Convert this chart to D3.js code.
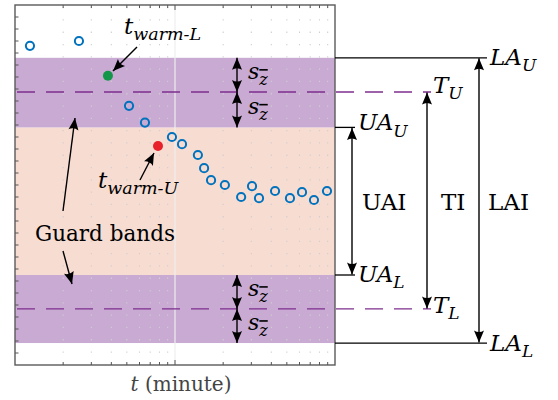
<!DOCTYPE html>
<html lang="en">
<head>
<meta charset="UTF-8">
<script src="https://cdnjs.cloudflare.com/ajax/libs/d3/7.8.5/d3.min.js"></script>
<style>
body { margin: 0; background: #fff; }
</style>
</head>
<body>
<svg width="558" height="400"></svg>
<script>
// measured readings (log time axis)
const times = [1.24, 2.51, 5.16, 6.49, 9.57, 11.06, 13.9, 15.2, 16.8, 20.5, 25.9, 30.3, 33.5, 42.2, 52.3, 62.2, 73.9, 89.1];
const readings = [26.6, 27.0, 21.6, 20.2, 19.0, 18.4, 17.5, 16.4, 15.4, 15.0, 14.0, 14.9, 13.9, 14.5, 13.9, 14.4, 13.75, 14.5];
const warmL = [3.81, 24.1];
const warmU = [7.83, 18.25];

// limits: outer (LA), target (T), inner (UA)
const limitNames = ["LA", "T", "UA"];
const intervalNames = ["LAI", "TI", "UAI"];
const upperLimits = [25.6, 22.75, 19.8];
const lowerLimits = [1.83, 4.67, 7.5];

const svg = d3.select("svg");
const x = d3.scaleLog().domain([1, 100]).range([15, 335]);
const y = d3.scaleLinear().domain([0, 30]).range([365, 5]);
const [x0, x1] = x.range(), [yb, yt] = y.range();

const purple = "#c8aad2", peach = "#f7dcd2", dashCol = "#7e2f8e";
const serif = "DejaVu Serif";

// arrow head
const defs = svg.append("defs");
defs.append("marker")
    .attr("id", "head")
    .attr("markerUnits", "userSpaceOnUse")
    .attr("viewBox", "-13 -6 14 12")
    .attr("markerWidth", 14).attr("markerHeight", 12)
    .attr("refX", 0).attr("refY", 0)
    .attr("orient", "auto-start-reverse")
    .append("path")
    .attr("d", "M0,0 L-12,-5 Q-9,0 -12,5 Z")
    .attr("fill", "#000");

// bands
svg.append("rect").attr("x", x0).attr("width", x1 - x0)
    .attr("y", y(upperLimits[2])).attr("height", y(lowerLimits[2]) - y(upperLimits[2]))
    .attr("fill", peach);
[[upperLimits[0], upperLimits[2]], [lowerLimits[2], lowerLimits[0]]].forEach(([a, b]) => {
    svg.append("rect").attr("x", x0).attr("width", x1 - x0)
        .attr("y", y(a)).attr("height", y(b) - y(a))
        .attr("fill", purple);
});

// grid
const minor = [];
[1, 10].forEach(d => { for (let k = 2; k <= 9; k++) minor.push(k * d); });
svg.append("g").selectAll("line").data(minor).enter().append("line")
    .attr("x1", d => x(d)).attr("x2", d => x(d))
    .attr("y1", yb).attr("y2", yt)
    .attr("stroke", "#cfcfcf").attr("stroke-width", 1.1)
    .attr("stroke-dasharray", "1.3,11");
svg.append("line").attr("x1", x(10)).attr("x2", x(10)).attr("y1", yb).attr("y2", yt)
    .attr("stroke", "#eeeeee").attr("stroke-width", 1.2);

// target dashed lines (extend out to the right labels)
[upperLimits[1], lowerLimits[1]].forEach(v => {
    svg.append("line").attr("x1", x0 + 2).attr("x2", 431)
        .attr("y1", y(v)).attr("y2", y(v))
        .attr("stroke", dashCol).attr("stroke-width", 1.3)
        .attr("stroke-dasharray", "18,11");
});

// ticks
const tickCol = "#555";
const xt = svg.append("g").attr("stroke", tickCol).attr("stroke-width", 1);
minor.concat([10]).forEach(d => {
    const len = d === 10 ? 5 : 3;
    xt.append("line").attr("x1", x(d)).attr("x2", x(d)).attr("y1", yb).attr("y2", yb - len);
    xt.append("line").attr("x1", x(d)).attr("x2", x(d)).attr("y1", yt).attr("y2", yt + len);
});
d3.range(1, 30).forEach(v => {
    xt.append("line").attr("x1", x0).attr("x2", x0 + 3.5).attr("y1", y(v)).attr("y2", y(v));
});

// frame
svg.append("rect").attr("x", x0).attr("y", yt).attr("width", x1 - x0).attr("height", yb - yt)
    .attr("fill", "none").attr("stroke", "#5a5a5a").attr("stroke-width", 1.4);

// points
svg.append("g").selectAll("circle").data(times).enter().append("circle")
    .attr("cx", d => x(d)).attr("cy", (d, i) => y(readings[i]))
    .attr("r", 4.1).attr("fill", "none").attr("stroke", "#0072bd").attr("stroke-width", 2);
svg.append("circle").attr("cx", x(warmL[0])).attr("cy", y(warmL[1])).attr("r", 5).attr("fill", "#13964a");
svg.append("circle").attr("cx", x(warmU[0])).attr("cy", y(warmU[1])).attr("r", 5).attr("fill", "#e8202a");

function arrow(xa, ya, xb, yb2, both) {
    const l = svg.append("line").attr("x1", xa).attr("y1", ya).attr("x2", xb).attr("y2", yb2)
        .attr("stroke", "#000").attr("stroke-width", 1.4)
        .attr("marker-end", "url(#head)");
    if (both) l.attr("marker-start", "url(#head)");
}

function mathLabel(tx, ty, main, sub, size, subSize, bar) {
    const t = svg.append("text").attr("x", tx).attr("y", ty)
        .style("font-family", serif)
        .style("font-style", "italic").style("font-size", size + "px");
    t.append("tspan").text(main);
    const s = t.append("tspan").attr("dy", size * 0.28).style("font-size", subSize + "px").text(sub);
    if (bar) s.style("text-decoration", "overline");
    return t;
}

// s_zbar arrows
const sx = 237;
[[upperLimits[0], upperLimits[1]], [upperLimits[1], upperLimits[2]],
 [lowerLimits[2], lowerLimits[1]], [lowerLimits[1], lowerLimits[0]]].forEach(([a, b]) => {
    arrow(sx, y(a), sx, y(b), true);
    mathLabel(sx + 11, (y(a) + y(b)) / 2 + 4, "s", "z", 22, 16, true);
});

// right-side limit lines
const lineEnd = [487, 431, 355], arrowX = [479, 427, 352], labelX = [490, 433, 358];
const upOff = [7, 1, 3], lowOff = [8, 4, 7];
limitNames.forEach((n, i) => {
    if (n !== "T") {
        [upperLimits[i], lowerLimits[i]].forEach(v => {
            svg.append("line").attr("x1", x1).attr("x2", lineEnd[i])
                .attr("y1", y(v)).attr("y2", y(v))
                .attr("stroke", "#000").attr("stroke-width", 1.3);
        });
    }
    arrow(arrowX[i], y(upperLimits[i]) + 0.5, arrowX[i], y(lowerLimits[i]) - 0.5, true);
    mathLabel(labelX[i], y(upperLimits[i]) + upOff[i], n, "U", 23, 17);
    mathLabel(labelX[i], y(lowerLimits[i]) + lowOff[i], n, "L", 23, 17);
});
const intX = [488, 441, 362];
intervalNames.forEach((n, i) => {
    svg.append("text").attr("x", intX[i]).attr("y", 210)
        .style("font-family", serif).style("font-size", "23px").text(n);
});

// annotations
mathLabel(124, 34, "t", "warm-L", 23, 17.5);
arrow(137, 47, 113, 71);
mathLabel(98, 188, "t", "warm-U", 23, 17.5);
arrow(140, 180, 154, 153);

svg.append("text").attr("x", 35).attr("y", 241).style("font-family", serif)
    .style("font-size", "21.5px").text("Guard bands");
arrow(63, 211, 75, 118);
arrow(63, 251, 72, 284);

// x label
const xl = svg.append("text").attr("x", (x0 + x1) / 2 + 6).attr("y", 391)
    .style("font-family", serif)
    .attr("text-anchor", "middle").style("font-size", "20px").style("fill", "#444");
xl.append("tspan").style("font-style", "italic").text("t");
xl.append("tspan").text(" (minute)");
</script>
</body>
</html>
